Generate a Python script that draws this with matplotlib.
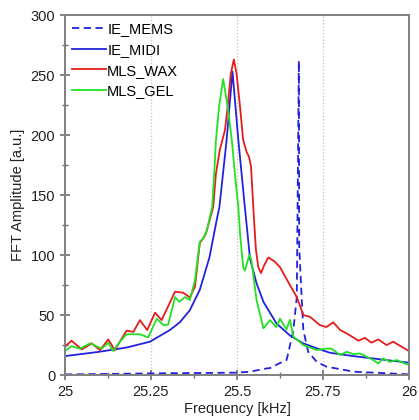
import numpy as np
import matplotlib
matplotlib.use("Agg")
import matplotlib.pyplot as plt
from matplotlib.ticker import MultipleLocator

# values (frequency in kHz, amplitude in a.u.)
mems_f = [25.0, 25.25, 25.5, 25.538, 25.586, 25.596, 25.625, 25.644, 25.649, 25.664,
          25.674, 25.680, 25.681, 25.688, 25.693, 25.707, 25.732, 25.76, 25.84, 26.0]
mems_a = [0.5, 1.4, 2.0, 2.8, 5.5, 5.8, 10, 12.5, 18, 37.5,
          65, 262, 107, 65, 37.5, 19.4, 11, 7, 2.8, 0.6]

midi_f = [25.0, 25.10, 25.18, 25.247, 25.305, 25.334, 25.363, 25.392, 25.42, 25.441,
          25.449, 25.470, 25.487, 25.504, 25.523, 25.538, 25.557, 25.577, 25.615, 25.654,
          25.692, 25.741, 25.77, 25.838, 25.935, 26.0]
midi_a = [15.8, 19.4, 23, 27.8, 37.5, 44, 54, 71, 98, 129,
          140, 196, 253, 196, 140, 97, 76.5, 61, 43, 33,
          26.5, 21.4, 18.6, 15.8, 12.5, 10.3]

wax_f = [25.0, 25.019, 25.049, 25.078, 25.102, 25.126, 25.145, 25.179, 25.199, 25.218,
         25.239, 25.262, 25.281, 25.32, 25.344, 25.363, 25.378, 25.392, 25.402, 25.41,
         25.431, 25.439, 25.45, 25.465, 25.473, 25.482, 25.491, 25.499, 25.509,
         25.518, 25.528, 25.535, 25.541, 25.548, 25.555, 25.562, 25.57, 25.58, 25.591,
         25.608, 25.625, 25.654, 25.674, 25.693, 25.712, 25.741, 25.76, 25.78, 25.8,
         25.819, 25.838, 25.853, 25.872, 25.891, 25.911, 25.935, 25.954, 25.979, 26.0]
wax_a = [23.6, 28.6, 21.4, 26.4, 20.8, 29.7, 20.8, 37, 36, 45.8,
         37.5, 52, 45.8, 69.5, 68.6, 64.7, 73.6, 110, 114, 118,
         140, 168, 187.5, 204, 223.6, 251, 263, 251, 223.6,
         196, 186, 182, 173.6, 137.5, 105, 90, 85, 92, 98,
         95, 90, 75, 65, 50, 48.6, 41.7, 40, 44, 37.5,
         34.7, 31.4, 28.6, 31, 27, 29.7, 25, 27.8, 23.6, 20]

gel_f = [25.0, 25.019, 25.044, 25.073, 25.107, 25.126, 25.14, 25.16, 25.179, 25.218,
         25.242, 25.267, 25.286, 25.3, 25.32, 25.332, 25.349, 25.363, 25.378, 25.392,
         25.402, 25.412, 25.428, 25.434, 25.439, 25.448, 25.46, 25.473, 25.485, 25.494,
         25.504, 25.509, 25.518, 25.523, 25.536, 25.542, 25.557, 25.577, 25.596, 25.615,
         25.625, 25.644, 25.654, 25.664, 25.693, 25.712, 25.732, 25.756, 25.775, 25.8,
         25.819, 25.838, 25.858, 25.877, 25.896, 25.911, 25.925, 25.945, 25.964, 25.983, 26.0]
gel_a = [20, 24, 22, 26.4, 22, 27, 20, 27.8, 34, 34,
         31.4, 47, 41.7, 42, 65, 61, 65, 62.5, 79, 111,
         114, 120, 140, 168, 196, 223.6, 246.7, 223.6, 196, 168,
         140, 118, 90, 87, 100, 96, 62.5, 39, 45.8, 40,
         47, 38, 46, 32, 25, 23, 20.8, 22, 22, 16.7,
         19.4, 17.5, 18, 15.3, 12.5, 9.7, 13.9, 11, 12.5, 10.3, 8.3]

plt.rcParams["font.family"] = ["Liberation Sans", "DejaVu Sans"]

fig = plt.figure(figsize=(4.19, 4.20), dpi=100)
ax = fig.add_axes([0.155, 0.107, 0.821, 0.857])

ax.plot(mems_f, mems_a, "--", color="#2222dd", lw=1.3, label="IE_MEMS", dashes=(4, 2.5))
ax.plot(midi_f, midi_a, "-", color="#2222dd", lw=1.3, label="IE_MIDI")
ax.plot(wax_f, wax_a, "-", color="#e51c1c", lw=1.3, label="MLS_WAX")
ax.plot(gel_f, gel_a, "-", color="#22e022", lw=1.3, label="MLS_GEL")

ax.set_xlim(25, 26)
ax.set_ylim(0, 300)
ax.set_xticks([25, 25.25, 25.5, 25.75, 26])
ax.set_xticklabels(["25", "25.25", "25.5", "25.75", "26"])
ax.xaxis.set_minor_locator(MultipleLocator(0.125))
ax.yaxis.set_major_locator(MultipleLocator(50))
ax.yaxis.set_minor_locator(MultipleLocator(25))

for x in [25.25, 25.5, 25.75]:
    ax.axvline(x, color="#c0c0c0", lw=0.9, ls=":", zorder=0)

for s in ax.spines.values():
    s.set_color("#808080")
    s.set_linewidth(1.4)
ax.tick_params(which="major", direction="inout", length=7, width=1.2,
               color="#707070", labelsize=10.5, labelcolor="#222222")
ax.tick_params(which="minor", direction="inout", length=5, width=1.0, color="#707070")

ax.set_xlabel("Frequency [kHz]", fontsize=10.5, color="#222222", labelpad=2)
ax.set_ylabel("FFT Amplitude [a.u.]", fontsize=10.5, color="#222222", labelpad=4)

ax.legend(loc="upper left", frameon=False, fontsize=10.5, handlelength=2.3,
          handletextpad=0.1, labelspacing=0.45, borderaxespad=0.1,
          bbox_to_anchor=(0.0, 1.0))

fig.savefig("out.png", dpi=100)
